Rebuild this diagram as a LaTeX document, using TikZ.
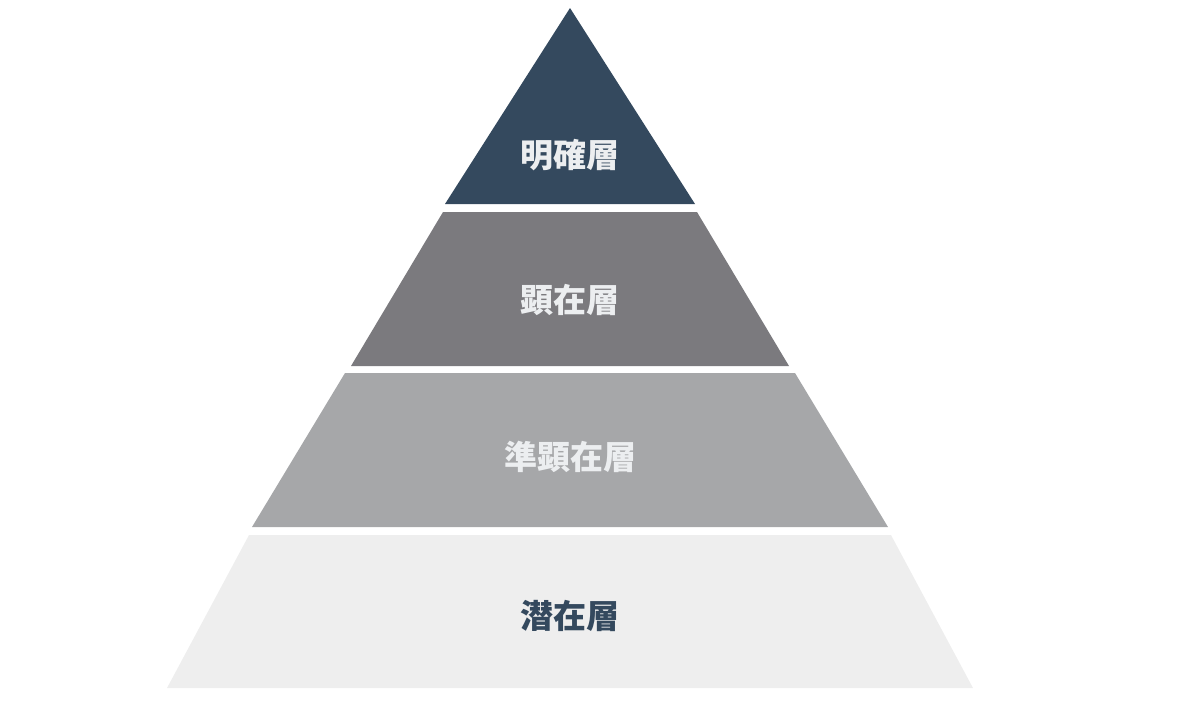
\documentclass[tikz,border=0pt]{standalone}
\usepackage{fontspec}
\newfontfamily\jp{Noto Sans CJK JP}
\definecolor{Navy}{RGB}{52,73,94}
\definecolor{Dark}{RGB}{123,122,126}
\definecolor{Mid}{RGB}{166,167,169}
\definecolor{Pale}{RGB}{238,238,238}
\definecolor{Light}{RGB}{236,238,240}
\begin{document}
\begin{tikzpicture}[x=1pt,y=-1pt,
 t/.style={font=\jp\bfseries\fontsize{33}{33}\selectfont,text=Light,inner sep=0pt}]
\useasboundingbox (0,0) rectangle (1200,710);
\fill[Navy] (570,8)--(695,204)--(445,204)--cycle;
\fill[Dark] (443,212)--(697,212)--(789,366)--(351,366)--cycle;
\fill[Mid] (345,373)--(795,373)--(888,527)--(252,527)--cycle;
\fill[Pale] (249,535)--(891,535)--(973,688)--(167,688)--cycle;
\node[t] (a) at (570,155) {明確層};
\node[t] (b) at (570,300) {顕在層};
\node[t] (c) at (570,457) {準顕在層};
\node[t,text=Navy] (d) at (570,616) {潜在層};
\end{tikzpicture}
\end{document}
